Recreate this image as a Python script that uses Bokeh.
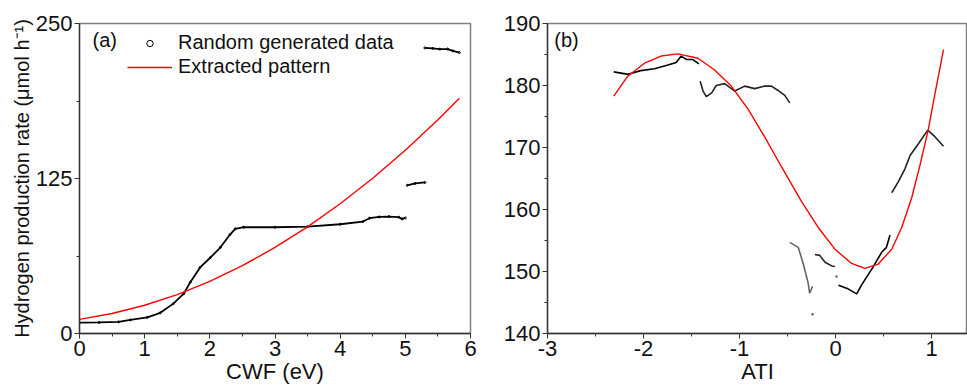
from bokeh.plotting import figure
from bokeh.layouts import row
from bokeh.models import (Range1d, FixedTicker, SingleIntervalTicker, Label, Legend, LegendItem,
                          CustomJSTickFormatter)
from bokeh.embed import file_html
from bokeh.resources import INLINE

FONT = "Liberation Sans"

# ---------------- Panel (a) data ----------------
a_x_tick = [0, 1, 2, 3, 4, 5, 6]
a_y_tick = [0, 125, 250]

a_data1_x = [0, 0.3, 0.6, 0.78, 1.04, 1.24, 1.44, 1.60, 1.70, 1.85, 2.01, 2.16, 2.31, 2.39, 2.52,
             3.0, 3.5, 4.0, 4.35, 4.45, 4.6, 4.75, 4.9, 4.95, 5.0]
a_data1_y = [8.8, 8.9, 9.4, 10.9, 13.0, 16.7, 24.1, 32.1, 41.4, 53.3, 61.3, 69.3, 79.8, 84.4, 85.7,
             85.7, 86.2, 88.1, 90.3, 93.0, 94.0, 94.3, 93.8, 92.4, 93.2]
a_data2_x = [5.03, 5.15, 5.30]
a_data2_y = [119.5, 121.0, 121.8]
a_data3_x = [5.30, 5.42, 5.53, 5.65, 5.73, 5.83]
a_data3_y = [230.3, 229.9, 229.3, 229.4, 227.9, 226.6]

a_fit_x = [0, 0.5, 1.0, 1.5, 2.0, 2.5, 3.0, 3.5, 4.0, 4.5, 5.0, 5.5, 5.83]
a_fit_y = [11.4, 16.1, 22.8, 31.4, 42.1, 54.7, 69.4, 86.0, 104.6, 125.2, 147.8, 172.4, 189.7]

# ---------------- Panel (b) data ----------------
b_seg1_x = [-2.31, -2.16, -2.03, -1.886, -1.746, -1.66, -1.608, -1.555, -1.49, -1.423]
b_seg1_y = [182.2, 181.8, 182.4, 182.7, 183.3, 183.7, 184.75, 184.2, 184.2, 183.5]
b_seg2_x = [-1.41, -1.38, -1.346, -1.29, -1.242, -1.155, -1.05, -0.946, -0.842, -0.738, -0.668, -0.598, -0.529, -0.477]
b_seg2_y = [180.7, 179.1, 178.2, 178.8, 180.0, 180.3, 179.1, 179.9, 179.5, 179.9, 179.9, 179.2, 178.4, 177.2]
b_seg3_x = [0.585, 0.654, 0.724, 0.776, 0.863, 0.96, 1.037, 1.124]
b_seg3_y = [162.7, 164.5, 166.6, 168.7, 170.6, 172.8, 171.7, 170.2]
b_seg4_x = [-0.477, -0.389, -0.337, -0.285, -0.27, -0.24]
b_seg4_y = [154.7, 153.9, 151.3, 148.1, 146.5, 147.6]
b_seg5_x = [-0.216, -0.165, -0.11, -0.04, -0.007]
b_seg5_y = [152.75, 152.6, 151.5, 150.9, 150.8]
b_seg6_x = [0.03, 0.13, 0.22, 0.27, 0.39, 0.48, 0.53, 0.567]
b_seg6_y = [147.8, 147.2, 146.4, 147.8, 150.7, 153.1, 153.9, 155.9]
b_pts_x = [-0.24, 0.01]
b_pts_y = [143.1, 149.2]

b_fit_x = [-2.31, -2.164, -1.99, -1.816, -1.642, -1.433, -1.26, -1.086, -0.911, -0.738, -0.564, -0.355,
           -0.181, -0.007, 0.167, 0.306, 0.445, 0.585, 0.689, 0.793, 0.88, 0.967, 1.037, 1.124]
b_fit_y = [178.3, 181.5, 183.6, 184.75, 185.1, 184.4, 182.5, 179.9, 176.2, 171.7, 166.9, 161.3,
           157.1, 153.6, 151.3, 150.5, 151.2, 153.6, 157.1, 161.9, 167.2, 173.0, 178.8, 185.8]

TICK_FS = "22px"
LAB_FS = "22px"
YLAB_FS = "20px"
LEG_FS = "20px"

H = 390
TOP = 23
BOTTOM = 57
FRAME_H = H - TOP - BOTTOM

plain_fmt = CustomJSTickFormatter(code="return String(tick);")


def style(p):
    p.background_fill_color = "white"
    p.border_fill_color = "white"
    p.outline_line_color = "#808080"
    p.outline_line_width = 1.5
    p.xgrid.visible = False
    p.ygrid.visible = False
    for ax in (p.xaxis[0], p.yaxis[0]):
        ax.axis_line_color = "#333333"
        ax.axis_line_width = 1.3
        ax.major_tick_line_color = "#333333"
        ax.minor_tick_line_color = "#333333"
        ax.major_tick_in = 0
        ax.major_tick_out = 5
        ax.minor_tick_in = 0
        ax.minor_tick_out = 3
        ax.major_label_text_font = FONT
        ax.major_label_text_font_size = TICK_FS
        ax.major_label_text_color = "#111111"
        ax.major_label_standoff = 2
        ax.axis_label_text_font = FONT
        ax.axis_label_text_font_size = LAB_FS
        ax.axis_label_text_font_style = "normal"
        ax.axis_label_text_color = "#111111"
        ax.axis_label_standoff = 0
        ax.formatter = plain_fmt


# ---------------- Figure (a) ----------------
pa = figure(width=480, height=H, output_backend="svg", toolbar_location=None,
            x_range=Range1d(0, 6), y_range=Range1d(0, 250),
            min_border_left=79, min_border_right=10, min_border_top=TOP, min_border_bottom=BOTTOM)
style(pa)
pa.xaxis[0].ticker = FixedTicker(ticks=a_x_tick, minor_ticks=[0.5, 1.5, 2.5, 3.5, 4.5, 5.5])
pa.yaxis[0].ticker = FixedTicker(ticks=a_y_tick, minor_ticks=[62.5, 187.5])
pa.xaxis[0].axis_label = "CWF (eV)"
pa.yaxis[0].axis_label = "Hydrogen production rate (\u03bcmol h\u207b\u00b9)"
pa.yaxis[0].axis_label_text_font_size = YLAB_FS

for xs, ys in ((a_data1_x, a_data1_y), (a_data2_x, a_data2_y), (a_data3_x, a_data3_y)):
    pa.line(xs, ys, line_color="black", line_width=1.8)
data_pts = pa.scatter(a_data1_x + a_data2_x + a_data3_x, a_data1_y + a_data2_y + a_data3_y,
                      marker="circle", size=2, fill_color=None, line_color="black", line_width=1)
fit_a = pa.line(a_fit_x, a_fit_y, line_color="#ff0000", line_width=1.4)

legend = Legend(items=[LegendItem(label="Random generated data", renderers=[data_pts]),
                       LegendItem(label="Extracted pattern", renderers=[fit_a])],
                location=(48, FRAME_H - 8 - 47), margin=0, padding=0, spacing=1,
                glyph_width=45, glyph_height=16, label_standoff=6,
                label_text_font=FONT, label_text_font_size=LEG_FS, label_text_color="#111111",
                border_line_color=None, background_fill_alpha=0)
pa.add_layout(legend)
pa.add_layout(Label(x=0.2, y=236.5, text="(a)", text_font=FONT, text_font_size=LEG_FS,
                    text_baseline="middle", text_color="#111111"))

# ---------------- Figure (b) ----------------
pb = figure(width=487, height=H, output_backend="svg", toolbar_location=None,
            x_range=Range1d(-3, 1.374), y_range=Range1d(140, 190),
            min_border_left=67, min_border_right=0, min_border_top=TOP, min_border_bottom=BOTTOM)
style(pb)
pb.xaxis[0].ticker = SingleIntervalTicker(interval=1, num_minor_ticks=2)
pb.yaxis[0].ticker = SingleIntervalTicker(interval=10, num_minor_ticks=2)
pb.xaxis[0].axis_label = "ATI"

for xs, ys, c in ((b_seg1_x, b_seg1_y, "black"), (b_seg2_x, b_seg2_y, "#222222"),
                  (b_seg3_x, b_seg3_y, "#222222"), (b_seg4_x, b_seg4_y, "#666666"),
                  (b_seg5_x, b_seg5_y, "#222222"), (b_seg6_x, b_seg6_y, "black")):
    pb.line(xs, ys, line_color=c, line_width=1.6)
pb.scatter(b_pts_x, b_pts_y, marker="circle", size=2.5, fill_color="#666666", line_color=None)
pb.line(b_fit_x, b_fit_y, line_color="#ff0000", line_width=1.4)
pb.add_layout(Label(x=-2.93, y=187.3, text="(b)", text_font=FONT, text_font_size=LEG_FS,
                    text_baseline="middle", text_color="#111111"))

layout = row(pa, pb)
open("out.html", "w").write(file_html(layout, INLINE))
